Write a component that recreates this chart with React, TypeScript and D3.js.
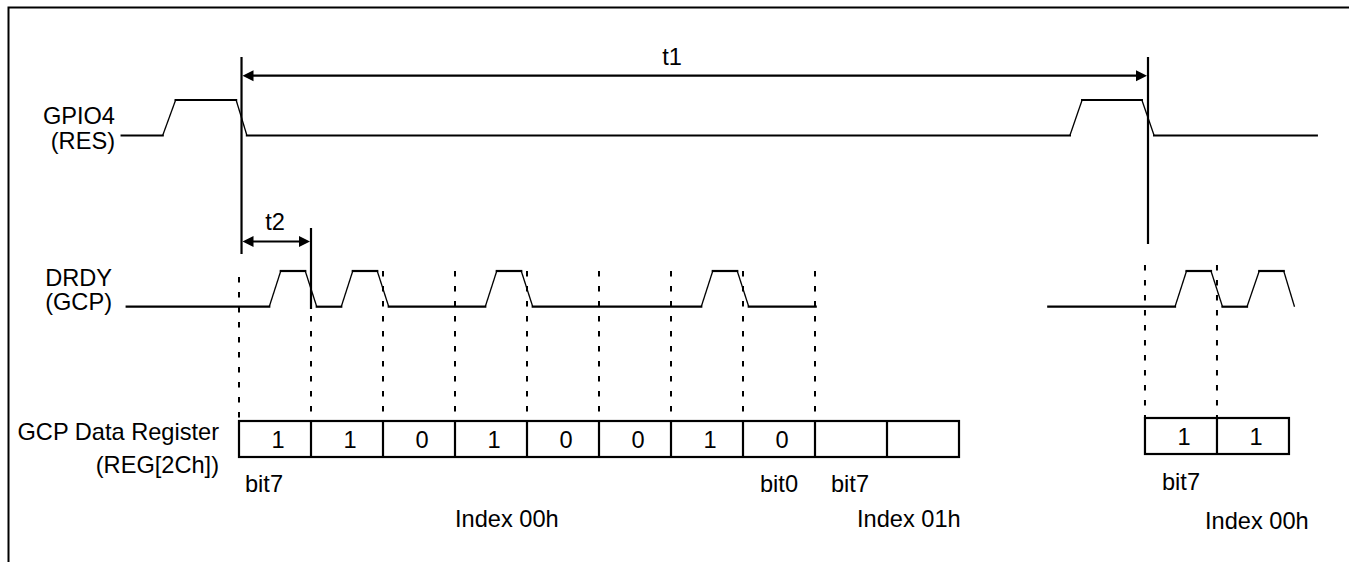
import React from "react";
import * as d3 from "d3";

// ---- data (time in bit periods) ----
const gpio4Points: [number, number][] = [
  [-1.63, 0], [-1.06, 0], [-0.88, 1], [-0.04, 1], [0.11, 0],
  [11.54, 0], [11.71, 1], [12.54, 1], [12.71, 0], [14.97, 0],
];
const drdyPointsA: [number, number][] = [
  [-1.56, 0], [0.42, 0], [0.58, 1], [0.92, 1], [1.08, 0],
  [1.42, 0], [1.58, 1], [1.92, 1], [2.08, 0],
  [3.42, 0], [3.58, 1], [3.92, 1], [4.08, 0],
  [6.42, 0], [6.58, 1], [6.92, 1], [7.08, 0], [8.01, 0],
];
const drdyPointsB: [number, number][] = [
  [11.24, 0], [13.0, 0], [13.16, 1], [13.5, 1], [13.66, 0],
  [14.0, 0], [14.17, 1], [14.51, 1], [14.66, 0],
];
const regBitsA = ["1", "1", "0", "1", "0", "0", "1", "0", "", ""];
const regBitsB = ["1", "1"];
const regStartA = 0;
const regStartB = 12.583;
const dashSlotsA = [0, 1, 2, 3, 4, 5, 6, 7, 8];
const dashSlotsB = [12.583, 13.583];
const t1Span: [number, number] = [0.035, 12.625];
const t2Span: [number, number] = [0.035, 1.0];

const W = 1349;
const H = 562;
const FONT = "'Liberation Sans', Arial, Helvetica, sans-serif";
const FS = 23.6;

const x = d3.scaleLinear().domain([0, 1]).range([239, 311]);
const yGpio = d3.scaleLinear().domain([0, 1]).range([135.5, 100]);
const yDrdy = d3.scaleLinear().domain([0, 1]).range([306.7, 271]);

function Signal({ pts, y }: { pts: [number, number][]; y: d3.ScaleLinear<number, number> }) {
  const segs = [];
  for (let i = 0; i < pts.length - 1; i++) {
    const a = pts[i];
    const b = pts[i + 1];
    const flat = a[1] === b[1];
    segs.push(
      <line
        key={i}
        x1={x(a[0])}
        y1={y(a[1])}
        x2={x(b[0])}
        y2={y(b[1])}
        stroke="#000"
        strokeWidth={flat ? 2.2 : 1.3}
        strokeLinecap={flat ? "square" : "butt"}
      />
    );
  }
  return <g>{segs}</g>;
}

function Arrow({ x1, x2, y }: { x1: number; x2: number; y: number }) {
  const L = 11;
  const h = 5.5;
  return (
    <g>
      <line x1={x1 + 4} x2={x2 - 4} y1={y} y2={y} stroke="#000" strokeWidth={2.2} />
      <path d={`M${x1},${y} L${x1 + L},${y - h} L${x1 + L},${y + h} Z`} fill="#000" />
      <path d={`M${x2},${y} L${x2 - L},${y - h} L${x2 - L},${y + h} Z`} fill="#000" />
    </g>
  );
}

function RegBox({ bits, start, top, bottom }: { bits: string[]; start: number; top: number; bottom: number }) {
  const x0 = x(start);
  const x1 = x(start + bits.length);
  return (
    <g>
      <rect x={x0} y={top} width={x1 - x0} height={bottom - top} fill="none" stroke="#000" strokeWidth={2.2} />
      {bits.map((b, i) => (
        <g key={i}>
          {i > 0 && (
            <line x1={x(start + i)} x2={x(start + i)} y1={top} y2={bottom} stroke="#000" strokeWidth={2.2} />
          )}
          <text
            x={(x(start + i) + x(start + i + 1)) / 2 + 3}
            y={(top + bottom) / 2 + 9}
            textAnchor="middle"
            fontSize={FS}
            fontFamily={FONT}
          >
            {b}
          </text>
        </g>
      ))}
    </g>
  );
}

export default function App() {
  const txt = (s: string, tx: number, ty: number, anchor: string = "start") => (
    <text x={tx} y={ty} fontSize={FS} fontFamily={FONT} textAnchor={anchor as any} fill="#000">
      {s}
    </text>
  );
  return (
    <svg
      width={W}
      height={H}
      viewBox={`0 0 ${W} ${H}`}
      overflow="hidden"
      style={{ position: "absolute", left: 0, top: 0, display: "block", background: "#fff" }}
    >
      <rect x={0} y={0} width={W} height={H} fill="#fff" />
      {/* frame */}
      <path d={`M8.5,${H} L8.5,7.5 L${W},7.5`} fill="none" stroke="#000" strokeWidth={2} />

      {/* signal labels */}
      {txt("GPIO4", 115, 124, "end")}
      {txt("(RES)", 115, 149, "end")}
      {txt("DRDY", 112, 286, "end")}
      {txt("(GCP)", 112, 310, "end")}
      {txt("GCP Data Register", 219, 440, "end")}
      {txt("(REG[2Ch])", 219, 473, "end")}

      {/* dashed bit boundaries */}
      {dashSlotsA.map((s, i) => (
        <line
          key={"da" + i}
          x1={x(s)}
          x2={x(s)}
          y1={i === 0 ? 277 : 271}
          y2={421}
          stroke="#000"
          strokeWidth={2}
          strokeDasharray="5.5,9.5"
        />
      ))}
      {dashSlotsB.map((s, i) => (
        <line
          key={"db" + i}
          x1={x(s)}
          x2={x(s)}
          y1={265}
          y2={418}
          stroke="#000"
          strokeWidth={2}
          strokeDasharray="5.5,9.5"
        />
      ))}

      {/* waveforms */}
      <Signal pts={gpio4Points} y={yGpio} />
      <Signal pts={drdyPointsA} y={yDrdy} />
      <Signal pts={drdyPointsB} y={yDrdy} />

      {/* timing markers */}
      <line x1={x(t1Span[0])} x2={x(t1Span[0])} y1={57} y2={254} stroke="#000" strokeWidth={2.2} />
      <line x1={x(t1Span[1])} x2={x(t1Span[1])} y1={57} y2={244} stroke="#000" strokeWidth={2.2} />
      <line x1={x(t2Span[1])} x2={x(t2Span[1])} y1={228} y2={309} stroke="#000" strokeWidth={2.2} />
      <Arrow x1={x(t1Span[0]) + 1} x2={x(t1Span[1]) - 1} y={75.7} />
      <Arrow x1={x(t2Span[0]) + 1} x2={x(t2Span[1]) - 1} y={241.5} />
      {txt("t1", 672, 65, "middle")}
      {txt("t2", 275, 230, "middle")}

      {/* register */}
      <RegBox bits={regBitsA} start={regStartA} top={421} bottom={457} />
      <RegBox bits={regBitsB} start={regStartB} top={418} bottom={454} />

      {txt("bit7", 245, 492)}
      {txt("bit0", 760, 492)}
      {txt("bit7", 831, 492)}
      {txt("Index 00h", 455, 527)}
      {txt("Index 01h", 857, 527)}
      {txt("bit7", 1162, 490)}
      {txt("Index 00h", 1205, 529)}
    </svg>
  );
}
